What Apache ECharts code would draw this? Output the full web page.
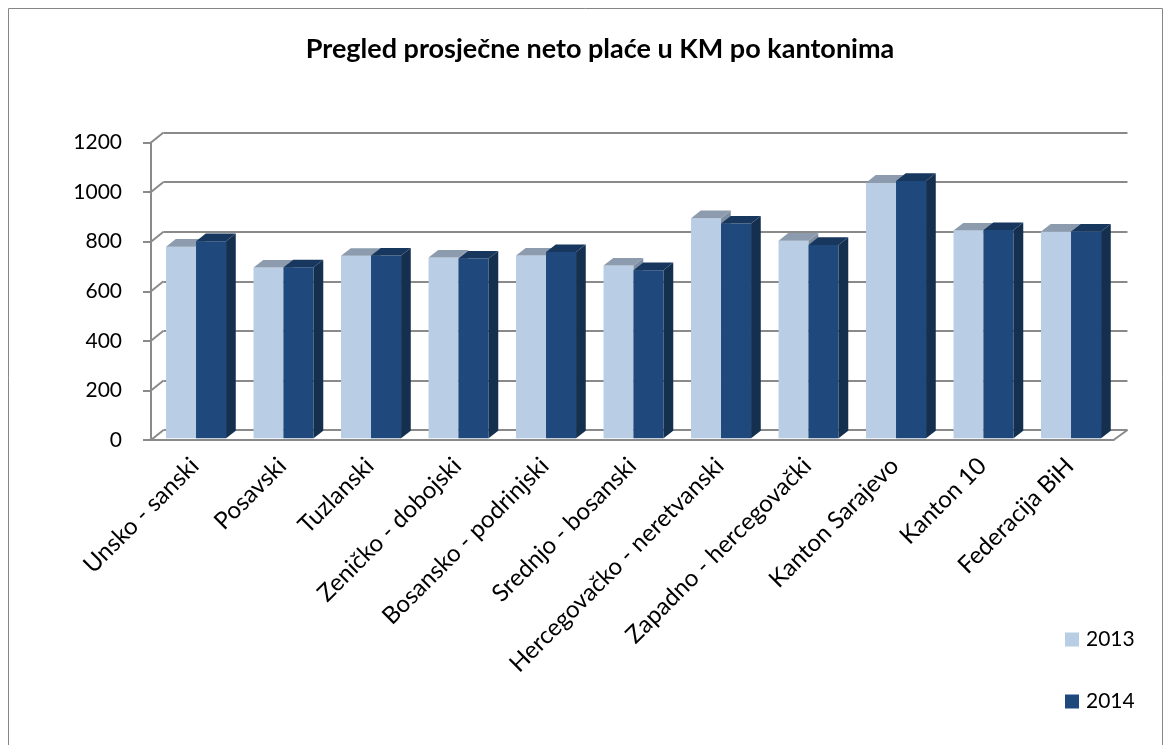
<!DOCTYPE html>
<html>
<head>
<meta charset="utf-8">
<script src="https://cdn.jsdelivr.net/npm/echarts@6/dist/echarts.min.js"></script>
<style>
  html, body { margin: 0; padding: 0; background: #fff; }
  #chart { width: 1171px; height: 745px; }
</style>
</head>
<body>
<div id="chart"></div>
<script>
// podaci
var categories = ['Unsko - sanski', 'Posavski', 'Tuzlanski', 'Zeničko - dobojski', 'Bosansko - podrinjski',
  'Srednjo - bosanski', 'Hercegovačko - neretvanski', 'Zapadno - hercegovački', 'Kanton Sarajevo',
  'Kanton 10', 'Federacija BiH'];
var values2013 = [773, 689, 736, 729, 737, 697, 888, 797, 1031, 838, 834];
var values2014 = [795, 690, 737, 725, 751, 678, 866, 780, 1038, 840, 834];
var yTicks = [0, 200, 400, 600, 800, 1000, 1200];

var FONT = 'Lato, "Noto Sans", sans-serif';
var GRID_COLOR = '#8a8a8a';

// 3d efekt stupaca
function barRenderer(side, frontColor, topColor, sideColor) {
  return function (params, api) {
    var cat = api.value(0), v = api.value(1);
    var base = api.coord([cat, 0]);
    var peak = api.coord([cat, v]);
    var band = api.size([1, 0])[0];
    var w = band * 0.343;
    var x = base[0] + 1.3 + (side === 0 ? -w : 0);
    var yb = base[1] - 1.7, yt = peak[1] - 1.7;
    var dx = 9.7, dy = 7.6;
    return {
      type: 'group',
      children: [
        {type: 'rect', shape: {x: x, y: yt, width: w, height: yb - yt}, style: {fill: frontColor}},
        {type: 'polygon', shape: {points: [[x + w, yb], [x + w, yt], [x + w + dx, yt - dy], [x + w + dx, yb - dy]]},
          style: {fill: sideColor}},
        {type: 'polygon', shape: {points: [[x, yt], [x + w, yt], [x + w + dx, yt - dy], [x + dx, yt - dy]]},
          style: {fill: topColor}}
      ]
    };
  };
}

// kose linije bocnog zida i poda
function wallRenderer(params, api) {
  var v = api.value(1);
  var p = api.coord([0, v]);
  var band = api.size([1, 0])[0];
  var x0 = p[0] - band / 2;
  var kids = [{type: 'line', shape: {x1: x0, y1: p[1], x2: x0 + 12.5, y2: p[1] - 10},
    style: {stroke: GRID_COLOR, lineWidth: 2}}];
  if (v === 0) {
    var q = api.coord([categories.length - 1, 0]);
    var x1 = q[0] + band / 2;
    kids.push({type: 'line', shape: {x1: x1, y1: q[1], x2: x1 + 14, y2: q[1] - 10},
      style: {stroke: GRID_COLOR, lineWidth: 2}});
  }
  return {type: 'group', children: kids};
}

var chart = echarts.init(document.getElementById('chart'));
var option = {
  animation: false,
  title: {
    text: 'Pregled prosječne neto plaće u KM po kantonima',
    left: 595,
    top: 31,
    textAlign: 'center',
    textStyle: {fontFamily: FONT, fontWeight: 'bold', fontSize: 27, color: '#000'}
  },
  legend: {
    data: ['2013', '2014'],
    orient: 'vertical',
    left: 1060,
    top: 623,
    itemWidth: 14,
    itemHeight: 14,
    itemGap: 39,
    icon: 'rect',
    textStyle: {fontFamily: FONT, fontSize: 21, color: '#000', lineHeight: 23, padding: [0, 0, 0, 2]}
  },
  graphic: [{
    type: 'rect', shape: {x: 8.5, y: 8.5, width: 1154, height: 760},
    style: {fill: null, stroke: '#868686', lineWidth: 1}, silent: true
  }],
  grid: [
    {left: 163.5, right: 43.5, top: 132.5, bottom: 315},
    {left: 151, right: 57.5, top: 142.5, bottom: 305}
  ],
  xAxis: [
    {gridIndex: 0, type: 'category', data: categories, show: false},
    {
      gridIndex: 1, type: 'category', data: categories,
      axisLine: {lineStyle: {color: GRID_COLOR, width: 2}},
      axisTick: {length: 6, lineStyle: {color: GRID_COLOR, width: 2}},
      axisLabel: {interval: 0, rotate: 45, margin: 22, fontFamily: FONT, fontSize: 24, color: '#000'}
    }
  ],
  yAxis: [
    {
      gridIndex: 0, type: 'value', min: 0, max: 1200, interval: 200,
      axisLine: {show: false}, axisTick: {show: false}, axisLabel: {show: false},
      splitLine: {lineStyle: {color: GRID_COLOR, width: 2}}
    },
    {
      gridIndex: 1, type: 'value', min: 0, max: 1200, interval: 200,
      axisLine: {show: true, lineStyle: {color: GRID_COLOR, width: 2}},
      axisTick: {show: true, length: 8, lineStyle: {color: GRID_COLOR, width: 2}},
      axisLabel: {margin: 29, fontFamily: FONT, fontSize: 21, color: '#000',
        formatter: function (v) { return String(v); }},
      splitLine: {show: false}
    }
  ],
  series: [
    {
      name: 'zid', type: 'custom', xAxisIndex: 1, yAxisIndex: 1, silent: true, z: 1,
      renderItem: wallRenderer,
      encode: {x: 0, y: 1},
      data: yTicks.map(function (v) { return [0, v]; })
    },
    {
      name: '2013', type: 'custom', xAxisIndex: 1, yAxisIndex: 1,
      itemStyle: {color: '#B9CDE5'},
      renderItem: barRenderer(0, '#B9CDE5', '#8C9BAE', '#7F8EA2'),
      encode: {x: 0, y: 1},
      data: values2013.map(function (v, i) { return [i, v]; })
    },
    {
      name: '2014', type: 'custom', xAxisIndex: 1, yAxisIndex: 1,
      itemStyle: {color: '#1F497D'},
      renderItem: barRenderer(1, '#1F497D', '#17375E', '#152F4F'),
      encode: {x: 0, y: 1},
      data: values2014.map(function (v, i) { return [i, v]; })
    }
  ]
};
chart.setOption(option);
</script>
</body>
</html>
